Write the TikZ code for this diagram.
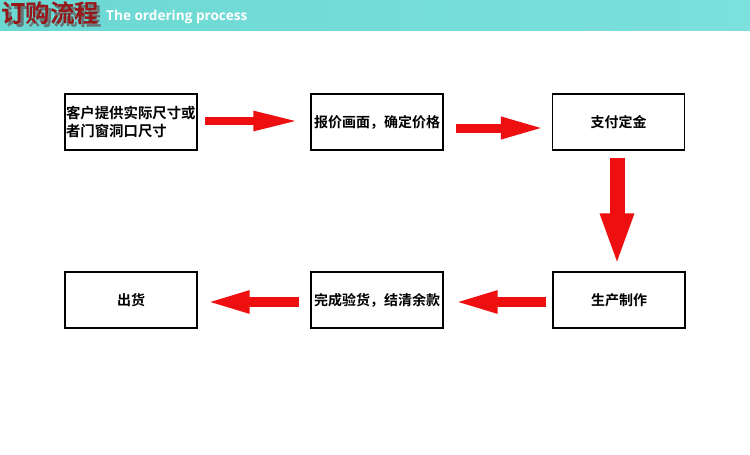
\documentclass[tikz,border=0pt]{standalone}
\usepackage{fontspec}
\newfontfamily\cjk{Noto Sans CJK SC}[BoldFont={Noto Sans CJK SC Bold}]
\newfontfamily\latinhead{Open Sans}[BoldFont={Open Sans Bold}]
\usetikzlibrary{arrows.meta}
\definecolor{headbg}{RGB}{108,216,211}
\definecolor{headbg2}{RGB}{124,224,220}
\definecolor{titlered}{RGB}{150,24,26}
\definecolor{titleshadow}{RGB}{100,118,118}
\definecolor{arrowred}{RGB}{238,16,16}
\tikzset{
  stepbox/.style={draw=black, line width=1.1pt, minimum width=132pt, minimum height=56pt, inner sep=1pt, font=\cjk\bfseries\fontsize{14pt}{18pt}\selectfont},
  fatarrow/.style args={#1/#2/#3}{draw=arrowred, line width=#1, -{Triangle[length=#3, width=#2]}, arrowred},
}
\begin{document}
\begin{tikzpicture}[x=1pt,y=-1pt]
\useasboundingbox (0,0) rectangle (750,455);
\fill[white] (0,0) rectangle (750,455);
\shade[left color=headbg, right color=headbg2] (0,0) rectangle (750,30);
% title with shadow
\node[anchor=west, inner sep=0pt, font=\cjk\bfseries\fontsize{24.5pt}{24.5pt}\selectfont] (title) at (1,15)
  {\rlap{\kern3pt\raisebox{-3pt}{\color{titleshadow}订购流程}}\textcolor{titlered}{订购流程}};
\node[anchor=west, inner sep=0pt, text=white, font=\latinhead\bfseries\fontsize{13.6pt}{14pt}\selectfont] (subtitle) at (106,17) {The ordering process};
% boxes
\node[stepbox, align=left, text width=130pt, font=\cjk\bfseries\fontsize{14.4pt}{18pt}\selectfont] (b1) at (131,122) {客户提供实际尺寸或\\者门窗洞口尺寸};
\node[stepbox] (b2) at (377,122) {报价画面，确定价格};
\node[stepbox] (b3) at (618.5,122) {支付定金};
\node[stepbox] (b4) at (619,300) {生产制作};
\node[stepbox] (b5) at (377,300) {完成验货，结清余款};
\node[stepbox] (b6) at (131,300) {出货};
% arrows
\draw[fatarrow=8pt/18pt/46pt] ([shift={(7,-1)}]b1.east) -- ([shift={(-11,-1)}]b2.west);
\draw[fatarrow=9pt/20pt/44pt] ([shift={(12,6)}]b2.east) -- ([shift={(-7,6)}]b3.west);
\draw[fatarrow=15pt/30pt/53pt] ([shift={(-1.5,7)}]b3.south) -- ([shift={(-2,-5)}]b4.north);
\draw[fatarrow=10pt/20pt/45pt] ([shift={(-6,2)}]b4.west) -- ([shift={(9,2)}]b5.east);
\draw[fatarrow=10pt/20pt/45pt] ([shift={(-11,2)}]b5.west) -- ([shift={(7,2)}]b6.east);
\end{tikzpicture}
\end{document}
